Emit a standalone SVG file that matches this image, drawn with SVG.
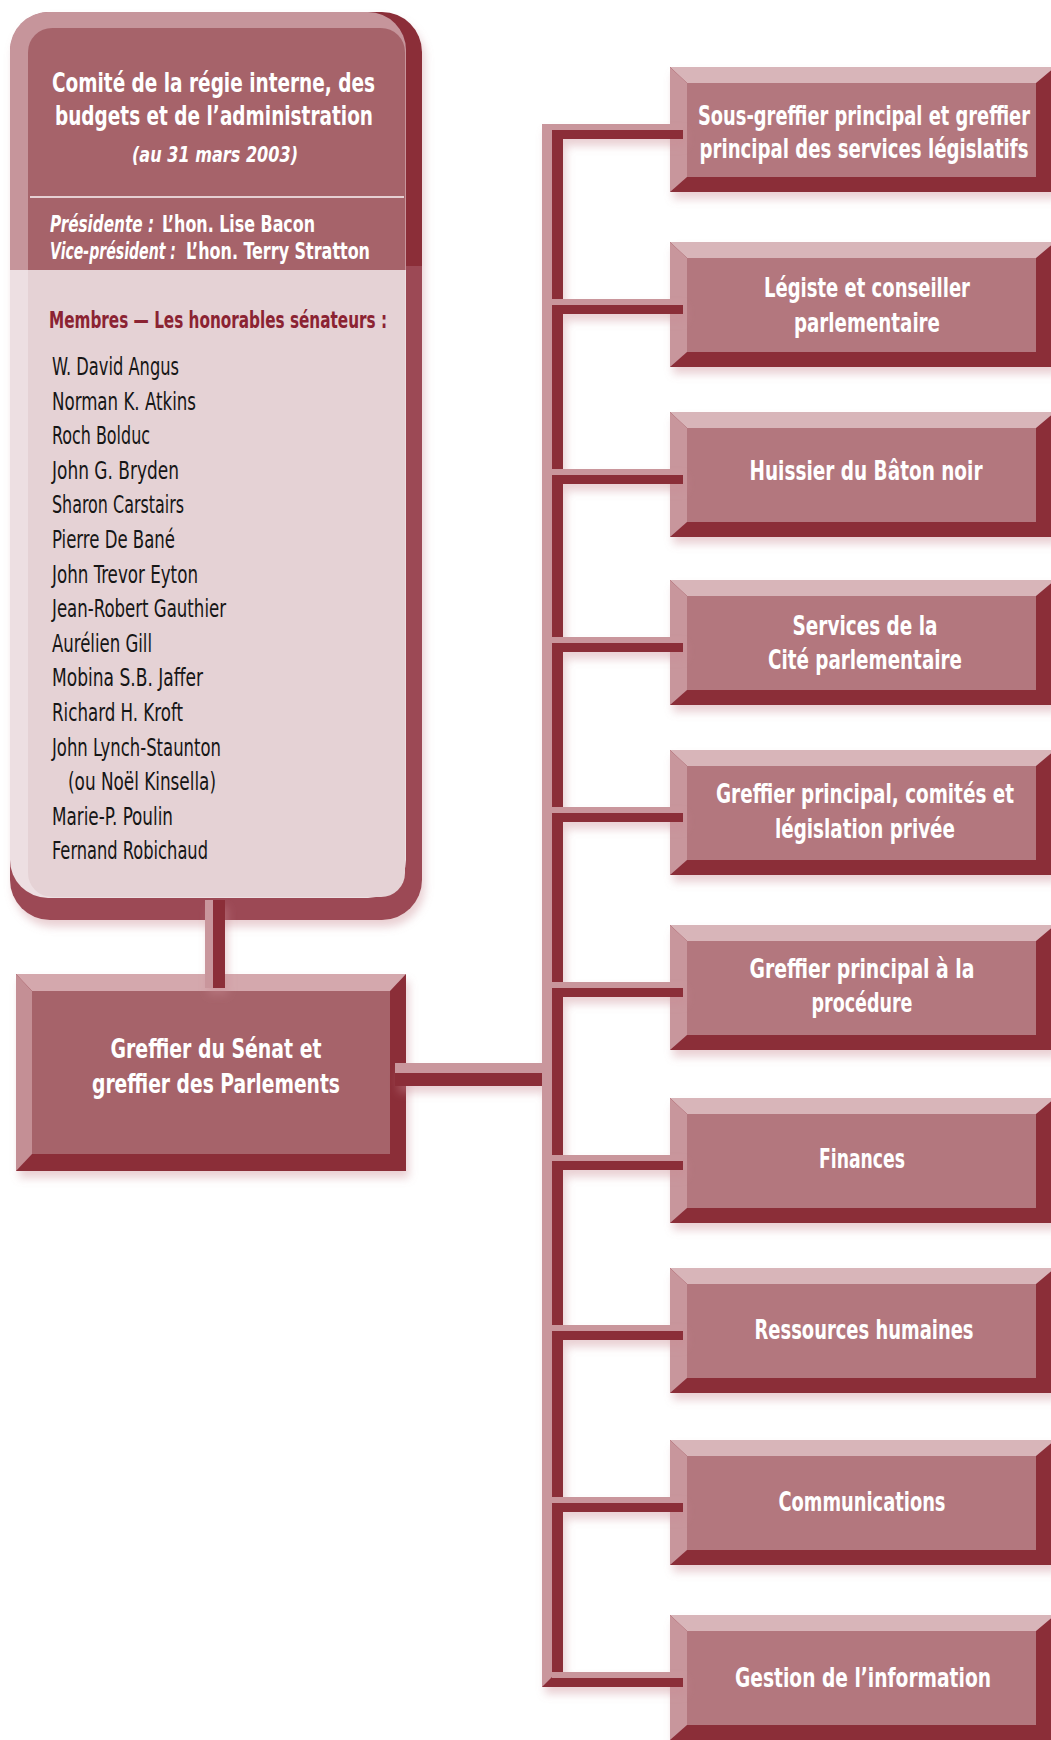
<svg xmlns="http://www.w3.org/2000/svg" xmlns:xlink="http://www.w3.org/1999/xlink" width="1051" height="1740" viewBox="0 0 1051 1740">
<style>
.t{font-family:'Liberation Sans Narrow','DejaVu Sans Condensed','Liberation Sans','DejaVu Sans',sans-serif;font-stretch:condensed}
.wb{fill:#ffffff;font-weight:bold;font-size:26px;text-anchor:middle}
.wi{fill:#ffffff;font-weight:bold;font-style:italic;font-size:22px;text-anchor:middle}
.pi{fill:#ffffff;font-weight:bold;font-style:italic;font-size:22.5px}
.pb{fill:#ffffff;font-weight:bold;font-size:22.5px;font-style:normal}
.mb{fill:#8b2332;font-weight:bold;font-size:23px}
.nm{fill:#161616;font-size:25.5px}
.cl{fill:#c9969c}
.cd{fill:#8b2d39}
</style>
<defs>
<filter id="sh" x="-10%" y="-10%" width="130%" height="140%">
<feGaussianBlur in="SourceAlpha" stdDeviation="4"/>
<feOffset dx="3" dy="7" result="b"/>
<feFlood flood-color="#c98a92" flood-opacity="0.4"/>
<feComposite in2="b" operator="in"/>
<feMerge><feMergeNode/><feMergeNode in="SourceGraphic"/></feMerge>
</filter>
<linearGradient id="cBevel" gradientUnits="userSpaceOnUse" x1="0" y1="12" x2="0" y2="898">
<stop offset="0" stop-color="#c6959b"/><stop offset="0.2912" stop-color="#c6959b"/>
<stop offset="0.2912" stop-color="#eddfe2"/><stop offset="1" stop-color="#eddfe2"/>
</linearGradient>
<linearGradient id="cFace" gradientUnits="userSpaceOnUse" x1="0" y1="28" x2="0" y2="897">
<stop offset="0" stop-color="#a6646b"/><stop offset="0.2785" stop-color="#a6646b"/>
<stop offset="0.2785" stop-color="#e5d2d5"/><stop offset="1" stop-color="#e5d2d5"/>
</linearGradient>
<linearGradient id="cDark" gradientUnits="userSpaceOnUse" x1="0" y1="12" x2="0" y2="920">
<stop offset="0" stop-color="#8b2d39"/><stop offset="0.28" stop-color="#8b2d39"/>
<stop offset="0.28" stop-color="#9c4a55"/><stop offset="1" stop-color="#9c4a55"/>
</linearGradient>
<g id="rbox">
<rect x="670" y="0" width="385" height="125" fill="#8b2d39"/>
<polygon points="670,0 1055,0 1036,16 687,16" fill="#d8b5b9"/>
<polygon points="670,0 687,16 687,110 670,125" fill="#c8969c"/>
<rect x="687" y="16" width="349" height="94" fill="#b3777e"/>
</g>
</defs>
<rect width="1051" height="1740" fill="#ffffff"/>

<g id="node-comite">
<g filter="url(#sh)">
<rect x="10" y="12" width="412" height="908" rx="40" fill="url(#cDark)"/>
<rect x="10" y="12" width="396" height="886" rx="38" fill="url(#cBevel)"/>
<rect x="28" y="28" width="377" height="869" rx="24" fill="url(#cFace)"/>
</g>
<line x1="30" y1="197" x2="404" y2="197" stroke="#e6d0d3" stroke-width="2"/>
<text class="t wb" x="213.5" y="92" textLength="323" lengthAdjust="spacingAndGlyphs">Comité de la régie interne, des</text>
<text class="t wb" x="214" y="125" textLength="318" lengthAdjust="spacingAndGlyphs">budgets et de l’administration</text>
<text class="t wi" x="215" y="162" textLength="166" lengthAdjust="spacingAndGlyphs">(au 31 mars 2003)</text>
<text class="t pi" y="232"><tspan x="50" textLength="104" lengthAdjust="spacingAndGlyphs">Présidente :</tspan><tspan class="pb" x="162" textLength="153" lengthAdjust="spacingAndGlyphs">L’hon. Lise Bacon</tspan></text>
<text class="t pi" y="259"><tspan x="50" textLength="126" lengthAdjust="spacingAndGlyphs">Vice-président :</tspan><tspan class="pb" x="186" textLength="184" lengthAdjust="spacingAndGlyphs">L’hon. Terry Stratton</tspan></text>
<text class="t mb" x="49" y="328" textLength="338" lengthAdjust="spacingAndGlyphs">Membres — Les honorables sénateurs :</text>
<text class="t nm" x="52" y="375" textLength="127" lengthAdjust="spacingAndGlyphs">W. David Angus</text>
<text class="t nm" x="52" y="409.6" textLength="144" lengthAdjust="spacingAndGlyphs">Norman K. Atkins</text>
<text class="t nm" x="52" y="444.2" textLength="98" lengthAdjust="spacingAndGlyphs">Roch Bolduc</text>
<text class="t nm" x="52" y="478.8" textLength="127" lengthAdjust="spacingAndGlyphs">John G. Bryden</text>
<text class="t nm" x="52" y="513.4" textLength="132" lengthAdjust="spacingAndGlyphs">Sharon Carstairs</text>
<text class="t nm" x="52" y="548" textLength="123" lengthAdjust="spacingAndGlyphs">Pierre De Bané</text>
<text class="t nm" x="52" y="582.6" textLength="146" lengthAdjust="spacingAndGlyphs">John Trevor Eyton</text>
<text class="t nm" x="52" y="617.2" textLength="174" lengthAdjust="spacingAndGlyphs">Jean-Robert Gauthier</text>
<text class="t nm" x="52" y="651.8" textLength="100" lengthAdjust="spacingAndGlyphs">Aurélien Gill</text>
<text class="t nm" x="52" y="686.4" textLength="151" lengthAdjust="spacingAndGlyphs">Mobina S.B. Jaffer</text>
<text class="t nm" x="52" y="721" textLength="131" lengthAdjust="spacingAndGlyphs">Richard H. Kroft</text>
<text class="t nm" x="52" y="755.6" textLength="169" lengthAdjust="spacingAndGlyphs">John Lynch-Staunton</text>
<text class="t nm" x="68" y="790.2" textLength="148" lengthAdjust="spacingAndGlyphs">(ou Noël Kinsella)</text>
<text class="t nm" x="52" y="824.8" textLength="121" lengthAdjust="spacingAndGlyphs">Marie-P. Poulin</text>
<text class="t nm" x="52" y="859.4" textLength="156" lengthAdjust="spacingAndGlyphs">Fernand Robichaud</text>
</g>

<g id="node-greffier-senat">
<g filter="url(#sh)">
<rect x="16" y="974" width="390" height="197" fill="#8b2d39"/>
<polygon points="16,974 406,974 390,991 32,991" fill="#d4a8ad"/>
<polygon points="16,974 32,991 32,1154 16,1171" fill="#c48f95"/>
<rect x="32" y="991" width="358" height="163" fill="#a6646b"/>
</g>
<text class="t wb" x="216" y="1058" textLength="211" lengthAdjust="spacingAndGlyphs">Greffier du Sénat et</text>
<text class="t wb" x="216" y="1093" textLength="248" lengthAdjust="spacingAndGlyphs">greffier des Parlements</text>
</g>

<g id="node-sous-greffier" transform="translate(0,67)">
<use xlink:href="#rbox" href="#rbox" filter="url(#sh)"/>
<text class="t wb" x="864" y="58" textLength="332" lengthAdjust="spacingAndGlyphs">Sous-greffier principal et greffier</text>
<text class="t wb" x="864" y="91" textLength="329" lengthAdjust="spacingAndGlyphs">principal des services législatifs</text>
</g>
<g id="node-legiste" transform="translate(0,242)">
<use xlink:href="#rbox" href="#rbox" filter="url(#sh)"/>
<text class="t wb" x="867" y="55" textLength="206" lengthAdjust="spacingAndGlyphs">Légiste et conseiller</text>
<text class="t wb" x="867" y="90" textLength="146" lengthAdjust="spacingAndGlyphs">parlementaire</text>
</g>
<g id="node-huissier" transform="translate(0,412)">
<use xlink:href="#rbox" href="#rbox" filter="url(#sh)"/>
<text class="t wb" x="866" y="68" textLength="233" lengthAdjust="spacingAndGlyphs">Huissier du Bâton noir</text>
</g>
<g id="node-cite" transform="translate(0,580)">
<use xlink:href="#rbox" href="#rbox" filter="url(#sh)"/>
<text class="t wb" x="865" y="55" textLength="145" lengthAdjust="spacingAndGlyphs">Services de la</text>
<text class="t wb" x="865" y="89" textLength="194" lengthAdjust="spacingAndGlyphs">Cité parlementaire</text>
</g>
<g id="node-comites" transform="translate(0,750)">
<use xlink:href="#rbox" href="#rbox" filter="url(#sh)"/>
<text class="t wb" x="865" y="53" textLength="298" lengthAdjust="spacingAndGlyphs">Greffier principal, comités et</text>
<text class="t wb" x="865" y="88" textLength="180" lengthAdjust="spacingAndGlyphs">législation privée</text>
</g>
<g id="node-procedure" transform="translate(0,925)">
<use xlink:href="#rbox" href="#rbox" filter="url(#sh)"/>
<text class="t wb" x="862" y="53" textLength="225" lengthAdjust="spacingAndGlyphs">Greffier principal à la</text>
<text class="t wb" x="862" y="87" textLength="101" lengthAdjust="spacingAndGlyphs">procédure</text>
</g>
<g id="node-finances" transform="translate(0,1098)">
<use xlink:href="#rbox" href="#rbox" filter="url(#sh)"/>
<text class="t wb" x="862" y="70" textLength="86" lengthAdjust="spacingAndGlyphs">Finances</text>
</g>
<g id="node-rh" transform="translate(0,1268)">
<use xlink:href="#rbox" href="#rbox" filter="url(#sh)"/>
<text class="t wb" x="864" y="71" textLength="219" lengthAdjust="spacingAndGlyphs">Ressources humaines</text>
</g>
<g id="node-communications" transform="translate(0,1440)">
<use xlink:href="#rbox" href="#rbox" filter="url(#sh)"/>
<text class="t wb" x="862" y="71" textLength="167" lengthAdjust="spacingAndGlyphs">Communications</text>
</g>
<g id="node-information" transform="translate(0,1615)">
<use xlink:href="#rbox" href="#rbox" filter="url(#sh)"/>
<text class="t wb" x="863" y="72" textLength="256" lengthAdjust="spacingAndGlyphs">Gestion de l’information</text>
</g>

<g id="connectors" filter="url(#sh)">
<rect class="cl" x="205" y="900" width="8" height="88"/>
<rect class="cd" x="213" y="900" width="12" height="88"/>
<rect class="cl" x="395" y="1063" width="147" height="10"/>
<rect class="cd" x="395" y="1073" width="157" height="13"/>
<rect class="cl" x="542" y="124" width="10" height="1563"/>
<rect class="cd" x="552" y="130" width="11" height="1557"/>
<polygon class="cd" points="542,1687 552,1677 552,1687"/>
<rect class="cl" x="552" y="124" width="131" height="6"/>
<rect class="cd" x="563" y="130" width="120" height="9"/>
<rect class="cl" x="552" y="299" width="131" height="6"/>
<rect class="cd" x="563" y="305" width="120" height="9"/>
<rect class="cl" x="552" y="469" width="131" height="6"/>
<rect class="cd" x="563" y="475" width="120" height="9"/>
<rect class="cl" x="552" y="637" width="131" height="6"/>
<rect class="cd" x="563" y="643" width="120" height="9"/>
<rect class="cl" x="552" y="807" width="131" height="6"/>
<rect class="cd" x="563" y="813" width="120" height="9"/>
<rect class="cl" x="552" y="982" width="131" height="6"/>
<rect class="cd" x="563" y="988" width="120" height="9"/>
<rect class="cl" x="552" y="1155" width="131" height="6"/>
<rect class="cd" x="563" y="1161" width="120" height="9"/>
<rect class="cl" x="552" y="1325" width="131" height="6"/>
<rect class="cd" x="563" y="1331" width="120" height="9"/>
<rect class="cl" x="552" y="1497" width="131" height="6"/>
<rect class="cd" x="563" y="1503" width="120" height="9"/>
<rect class="cl" x="552" y="1672" width="131" height="6"/>
<rect class="cd" x="552" y="1678" width="131" height="9"/>
</g>
</svg>
